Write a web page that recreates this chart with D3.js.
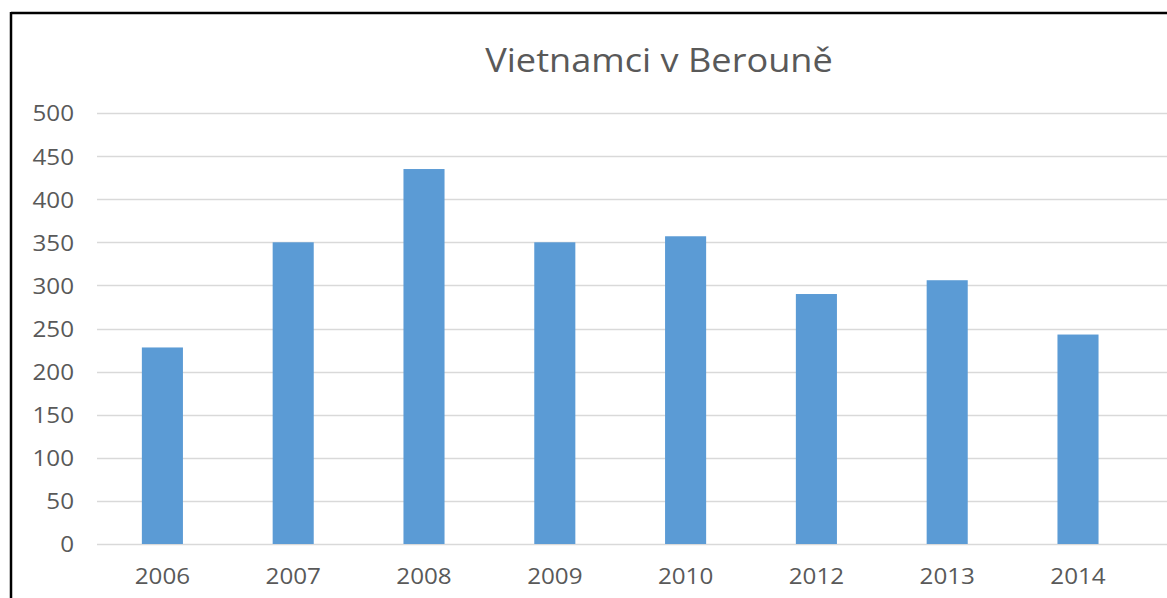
<!DOCTYPE html>
<html><head><meta charset="utf-8">
<script src="https://cdn.jsdelivr.net/npm/d3@7"></script>
<style>body{margin:0;background:#fff;} svg{display:block;}</style>
</head><body>
<script>
const categories = ["2006","2007","2008","2009","2010","2012","2013","2014"];
const values = [228, 350, 435, 350, 357, 290, 306, 243];
const yTicks = [0,50,100,150,200,250,300,350,400,450,500];
const title = "Vietnamci v Berouně";

const W = 1167, H = 598;
const svg = d3.select("body").append("svg").attr("width", W).attr("height", H);
svg.append("rect").attr("width", W).attr("height", H).attr("fill", "#fff");

const x0 = 97, x1 = 1143.4, yTop = 113, yBot = 544;
const x = d3.scaleBand().domain(categories).range([x0, x1]).paddingInner(0.686).paddingOuter(0.343);
const y = d3.scaleLinear().domain([0, 500]).range([yBot, yTop]);
const font = "'Open Sans', 'Noto Sans', sans-serif";

// gridlines
svg.append("g").selectAll("line").data(yTicks).join("line")
  .attr("x1", x0).attr("x2", W).attr("y1", d => Math.round(y(d)) + 0.5).attr("y2", d => Math.round(y(d)) + 0.5)
  .attr("stroke", "#d9d9d9").attr("stroke-width", 1.3);

// bars
svg.append("g").selectAll("rect").data(values).join("rect")
  .attr("x", (d, i) => x(categories[i])).attr("width", x.bandwidth())
  .attr("y", d => y(d)).attr("height", d => y(0) - y(d))
  .attr("fill", "#5b9bd5");

// y axis labels
const yAxis = d3.axisLeft(y).tickValues(yTicks).tickSize(0).tickPadding(0);
const gy = svg.append("g").attr("transform", `translate(74,0)`).call(yAxis);
gy.select(".domain").remove();
gy.selectAll("text").attr("font-family", font).attr("font-size", 22).attr("fill", "#595959")
  .attr("dy", "0.36em").attr("transform", "scale(1.1,1)");

// x axis labels
const xAxis = d3.axisBottom(x).tickSize(0).tickPadding(0);
const gx = svg.append("g").attr("transform", `translate(0,576)`).call(xAxis);
gx.select(".domain").remove();
gx.selectAll("text").attr("font-family", font).attr("font-size", 22).attr("fill", "#595959")
  .attr("dy", "0.36em").attr("transform", "scale(1.1,1)");

// title
svg.append("text").attr("transform", "translate(659,72) scale(1.13,1)").attr("text-anchor", "middle")
  .attr("font-family", font).attr("font-size", 32).attr("fill", "#595959").text(title);

// border
svg.append("line").attr("x1", 11).attr("x2", W).attr("y1", 13).attr("y2", 13).attr("stroke", "#000").attr("stroke-width", 2.5);
svg.append("line").attr("x1", 11).attr("x2", 11).attr("y1", 12).attr("y2", H).attr("stroke", "#000").attr("stroke-width", 2.5);
</script>
</body></html>
